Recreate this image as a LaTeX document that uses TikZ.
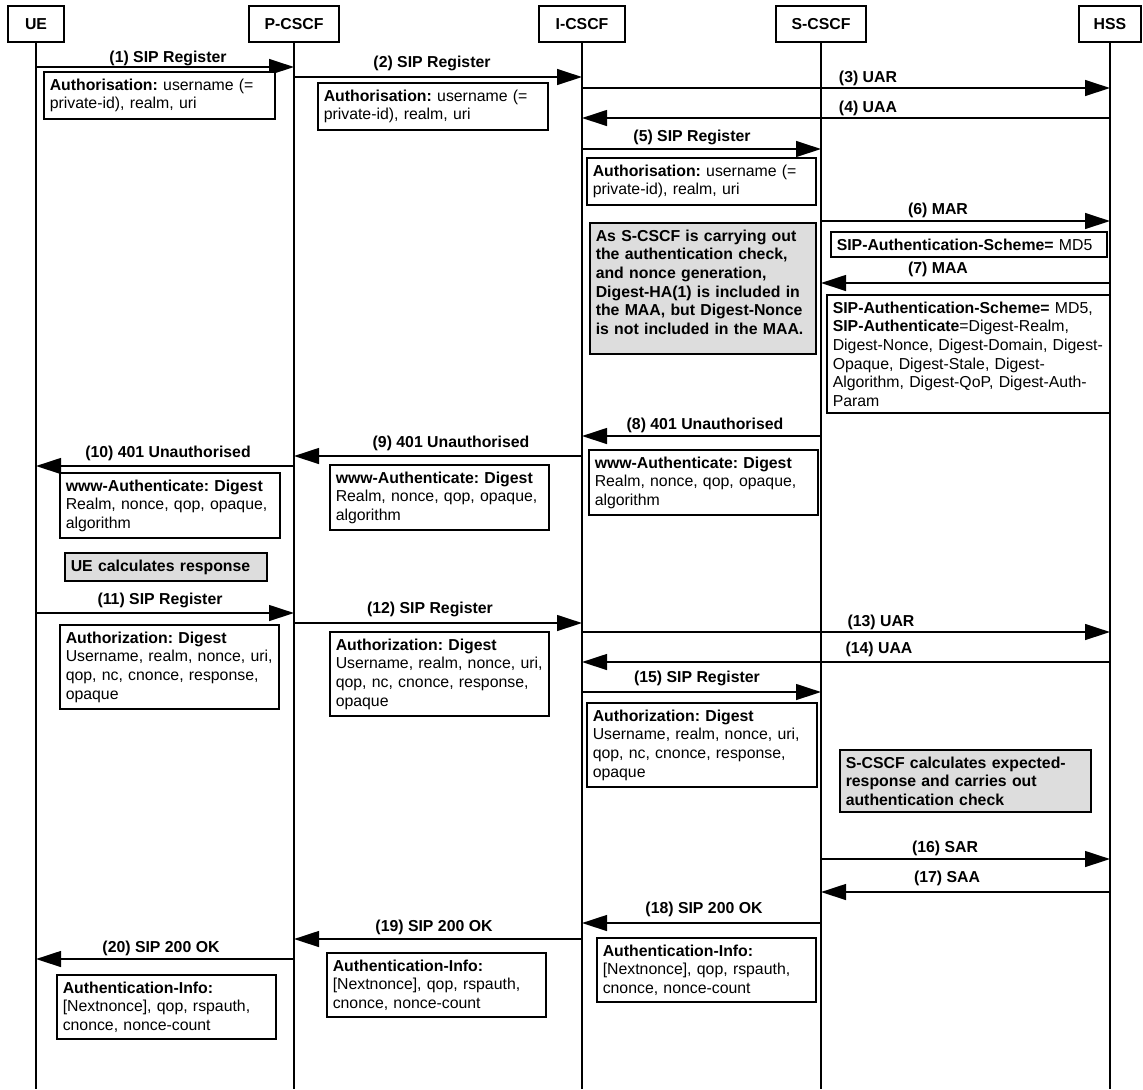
\documentclass[tikz,border=0pt]{standalone}
\usepackage{fontspec}
\setmainfont{Liberation Sans}
\usepackage{xcolor}
\usetikzlibrary{arrows.meta,positioning,calc}
\definecolor{inkblack}{HTML}{000000}
\definecolor{notegray}{HTML}{DDDDDD}
\frenchspacing

\begin{document}
\begin{tikzpicture}[
  x=0.6pt, y=-0.6pt,
  font=\fontsize{9.5}{11.2}\selectfont,
  entity/.style={
    draw=inkblack,
    line width=1.1pt,
    minimum height=21.6pt,
    inner sep=0pt,
    font=\fontsize{9.5}{11.2}\selectfont\bfseries
  },
  lifeline/.style={draw=inkblack,line width=1.1pt},
  msg/.style={-{Triangle[length=15pt,width=9.5pt]},draw=inkblack,line width=1.1pt},
  msglabel/.style={font=\fontsize{9.5}{11.2}\selectfont\bfseries,inner sep=0pt},
  params/.style={
    draw=inkblack,
    fill=white,
    line width=1.1pt,
    anchor=north west,
    align=left,
    inner xsep=3.5pt,
    inner ysep=4pt
  },
  action/.style={params,fill=notegray,font=\fontsize{9.5}{11.2}\selectfont\bfseries}
]
  \useasboundingbox (0,0) rectangle (1143,1089);

  \node[entity,minimum width=33.6pt] (ue) at (36,24) {UE};
  \node[entity,minimum width=54pt] (pcscf) at (294,24) {P-CSCF};
  \node[entity,minimum width=51.6pt] (icscf) at (582,24) {I-CSCF};
  \node[entity,minimum width=54pt] (scscf) at (821,24) {S-CSCF};
  \node[entity,minimum width=37.2pt] (hss) at (1110,24) {HSS};

  \coordinate (bottom) at (0,1089);
  \draw[lifeline] (ue.south) -- (ue.south |- bottom);
  \draw[lifeline] (pcscf.south) -- (pcscf.south |- bottom);
  \draw[lifeline] (icscf.south) -- (icscf.south |- bottom);
  \draw[lifeline] (scscf.south) -- (scscf.south |- bottom);
  \draw[lifeline] (hss.south) -- (hss.south |- bottom);

  \coordinate (m1) at (0,67);
  \coordinate (m2) at (0,77);
  \coordinate (m3) at (0,88);
  \coordinate (m4) at (0,118);
  \coordinate (m5) at (0,149);
  \coordinate (m6) at (0,221);
  \coordinate (m7) at (0,283);
  \coordinate (m8) at (0,436);
  \coordinate (m9) at (0,456);
  \coordinate (m10) at (0,466);
  \coordinate (m11) at (0,613);
  \coordinate (m12) at (0,623);
  \coordinate (m13) at (0,632);
  \coordinate (m14) at (0,662);
  \coordinate (m15) at (0,692);
  \coordinate (m16) at (0,859);
  \coordinate (m17) at (0,892);
  \coordinate (m18) at (0,923);
  \coordinate (m19) at (0,939);
  \coordinate (m20) at (0,959);

  \draw[msg] (ue |- m1) -- (pcscf |- m1);
  \draw[msg] (pcscf |- m2) -- (icscf |- m2);
  \draw[msg] (icscf |- m3) -- (hss |- m3);
  \draw[msg] (hss |- m4) -- (icscf |- m4);
  \draw[msg] (icscf |- m5) -- (scscf |- m5);
  \draw[msg] (scscf |- m6) -- (hss |- m6);
  \draw[msg] (hss |- m7) -- (scscf |- m7);
  \draw[msg] (scscf |- m8) -- (icscf |- m8);
  \draw[msg] (icscf |- m9) -- (pcscf |- m9);
  \draw[msg] (pcscf |- m10) -- (ue |- m10);
  \draw[msg] (ue |- m11) -- (pcscf |- m11);
  \draw[msg] (pcscf |- m12) -- (icscf |- m12);
  \draw[msg] (icscf |- m13) -- (hss |- m13);
  \draw[msg] (hss |- m14) -- (icscf |- m14);
  \draw[msg] (icscf |- m15) -- (scscf |- m15);
  \draw[msg] (scscf |- m16) -- (hss |- m16);
  \draw[msg] (hss |- m17) -- (scscf |- m17);
  \draw[msg] (scscf |- m18) -- (icscf |- m18);
  \draw[msg] (icscf |- m19) -- (pcscf |- m19);
  \draw[msg] (pcscf |- m20) -- (ue |- m20);

  \node[msglabel] (t1) at (168,58) {(1) SIP Register};
  \node[msglabel] (t2) at (432,63) {(2) SIP Register};
  \node[msglabel] (t3) at (868,78) {(3) UAR};
  \node[msglabel] (t4) at (868,108) {(4) UAA};
  \node[msglabel] (t5) at (692,137) {(5) SIP Register};
  \node[msglabel] (t6) at (938,210) {(6) MAR};
  \node[msglabel] (t7) at (938,269) {(7) MAA};
  \node[msglabel] (t8) at (705,425) {(8) 401 Unauthorised};
  \node[msglabel] (t9) at (451,443) {(9) 401 Unauthorised};
  \node[msglabel] (t10) at (168,453) {(10) 401 Unauthorised};
  \node[msglabel] (t11) at (160,600) {(11) SIP Register};
  \node[msglabel] (t12) at (430,609) {(12) SIP Register};
  \node[msglabel] (t13) at (881,622) {(13) UAR};
  \node[msglabel] (t14) at (879,649) {(14) UAA};
  \node[msglabel] (t15) at (697,678) {(15) SIP Register};
  \node[msglabel] (t16) at (945,848) {(16) SAR};
  \node[msglabel] (t17) at (947,878) {(17) SAA};
  \node[msglabel] (t18) at (704,909) {(18) SIP 200 OK};
  \node[msglabel] (t19) at (434,927) {(19) SIP 200 OK};
  \node[msglabel] (t20) at (161,948) {(20) SIP 200 OK};

  \node[params,text width=131.6pt] (auth1) at (43,71) {\textbf{Authorisation:} username (=\\private-id), realm, uri};
  \node[params,text width=131pt] (auth2) at (317,82) {\textbf{Authorisation:} username (=\\private-id), realm, uri};
  \node[params,text width=130.4pt] (auth5) at (586,157) {\textbf{Authorisation:} username (=\\private-id), realm, uri};
  \node[params,text width=158.6pt] (scheme6) at (830,231) {\textbf{SIP-Authentication-Scheme=} MD5};
  \node[action,text width=128.6pt] (hanote) at (589,222) {As S-CSCF is carrying out\\the authentication check,\\and nonce generation,\\Digest-HA(1) is included in\\the MAA, but Digest-Nonce\\is not included in the MAA.\rule[-8pt]{0pt}{8pt}};
  \node[params,text width=162.8pt] (scheme7) at (826,294) {\textbf{SIP-Authentication-Scheme=} MD5,\\\textbf{SIP-Authenticate}=Digest-Realm,\\Digest-Nonce, Digest-Domain, Digest-\\Opaque, Digest-Stale, Digest-\\Algorithm, Digest-QoP, Digest-Auth-\\Param};
  \node[params,text width=130.4pt] (www8) at (588,449) {\textbf{www-Authenticate: Digest}\\Realm, nonce, qop, opaque,\\algorithm};
  \node[params,text width=124.4pt] (www9) at (329,464) {\textbf{www-Authenticate: Digest}\\Realm, nonce, qop, opaque,\\algorithm};
  \node[params,text width=125pt] (www10) at (59,472) {\textbf{www-Authenticate: Digest}\\Realm, nonce, qop, opaque,\\algorithm};
  \node[action,text width=114.2pt] (uecalc) at (64,552) {UE calculates response};
  \node[params,text width=124.4pt] (digest11) at (59,624) {\textbf{Authorization: Digest}\\Username, realm, nonce, uri,\\qop, nc, cnonce, response,\\opaque};
  \node[params,text width=124.4pt] (digest12) at (329,631) {\textbf{Authorization: Digest}\\Username, realm, nonce, uri,\\qop, nc, cnonce, response,\\opaque};
  \node[params,text width=131pt] (digest15) at (586,702) {\textbf{Authorization: Digest}\\Username, realm, nonce, uri,\\qop, nc, cnonce, response,\\opaque};
  \node[action,text width=143.6pt] (scscfcalc) at (839,749) {S-CSCF calculates expected-\\response and carries out\\authentication check};
  \node[params,text width=124.4pt] (info18) at (596,937) {\textbf{Authentication-Info:}\\{[Nextnonce]}, qop, rspauth,\\cnonce, nonce-count};
  \node[params,text width=124.4pt] (info19) at (326,952) {\textbf{Authentication-Info:}\\{[Nextnonce]}, qop, rspauth,\\cnonce, nonce-count};
  \node[params,text width=124.4pt] (info20) at (56,974) {\textbf{Authentication-Info:}\\{[Nextnonce]}, qop, rspauth,\\cnonce, nonce-count};
\end{tikzpicture}
\end{document}
